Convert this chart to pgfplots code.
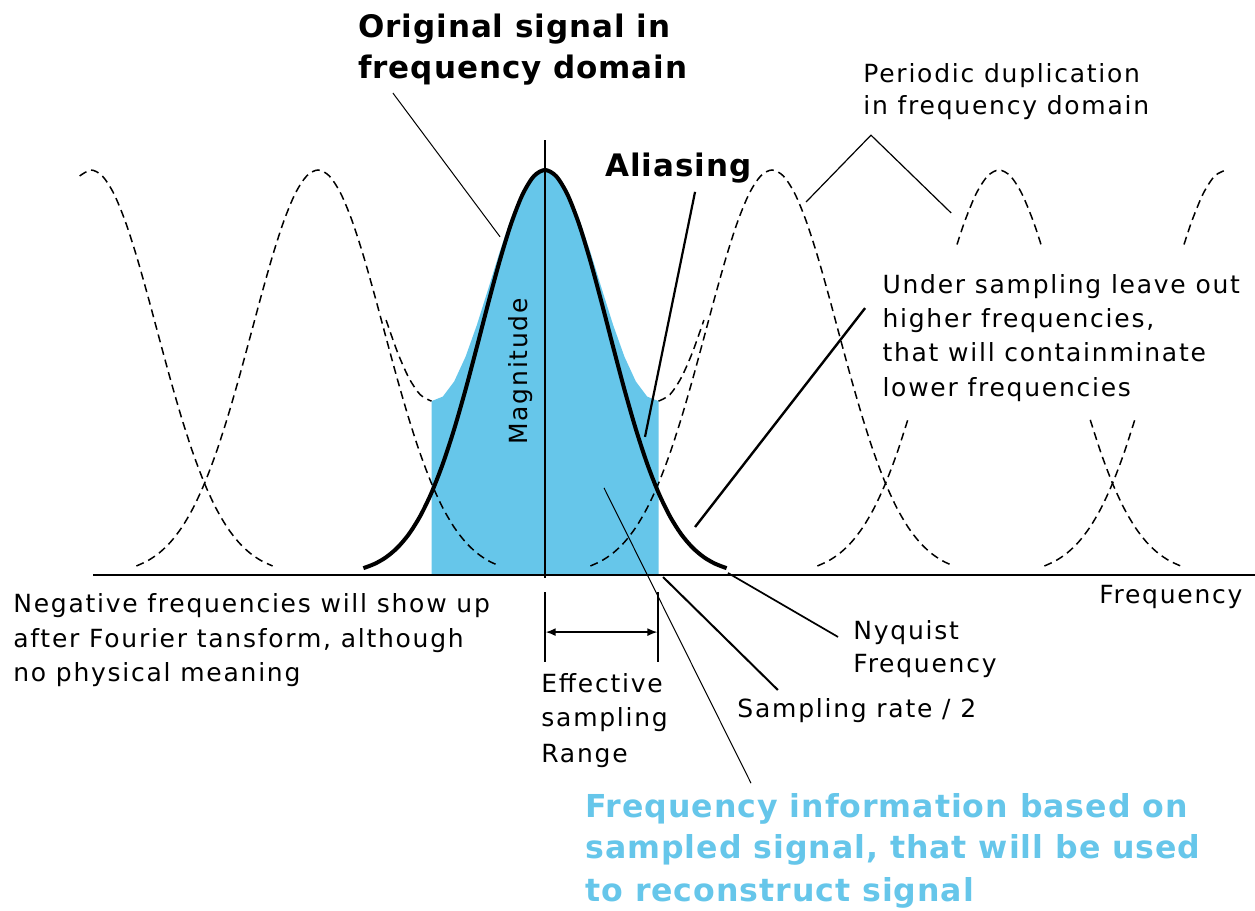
\documentclass[border=0pt]{standalone}
\usepackage{pgfplots}
\pgfplotsset{compat=1.18}
\usepackage{fontspec}
\setmainfont{DejaVu Sans}
\newfontfamily\regfont[LetterSpace=7]{DejaVu Sans}
\newfontfamily\bldfont[LetterSpace=3]{DejaVu Sans}
\usetikzlibrary{arrows.meta}
\definecolor{skyb}{RGB}{102,198,234}
\newcommand\rtext{\regfont\fontsize{12.5}{17}\selectfont}
\newcommand\btext{\bldfont\bfseries\fontsize{15.5}{20.5}\selectfont}
\newcommand\ctext{\bldfont\bfseries\fontsize{15.8}{21}\selectfont}
\tikzset{
    dashcurve/.style={black, line width=0.75pt, dash pattern=on 4pt off 2.5pt, smooth},
    lead/.style={black, line width=#1, sharp plot},
    txt/.style={anchor=base west, inner sep=0pt, font=\rtext}}

\begin{document}
\begin{tikzpicture}
\begin{axis}[scale only axis, width=627.5pt, height=455pt,
    xmin=-2.40088, xmax=3.12775, ymin=-0.82716, ymax=1.41975,
    hide axis, clip=false]

% sampled spectrum (sum of copies) over the effective range
\addplot[fill=skyb, draw=none] coordinates {(-0.5,0) (-0.5,0.4293) (-0.45,0.4405) (-0.4,0.4780) (-0.35,0.5389) (-0.3,0.6176) (-0.25,0.7066) (-0.2,0.7971) (-0.15,0.8803) (-0.1,0.9471) (-0.05,0.9903) (0,1.005) (0.05,0.9903) (0.1,0.9471) (0.15,0.8803) (0.2,0.7971) (0.25,0.7066) (0.3,0.6176) (0.35,0.5389) (0.4,0.4780) (0.45,0.4405) (0.5,0.4293) (0.5,0)};

% periodic copies
\addplot[dashcurve] coordinates {(-2.05,0.9852) (-2,1) (-1.95,0.9852) (-1.9,0.9423) (-1.85,0.8748) (-1.8,0.7884) (-1.75,0.6897) (-1.7,0.5856) (-1.65,0.4827) (-1.6,0.3863) (-1.55,0.3000) (-1.5,0.2262) (-1.45,0.1656) (-1.4,0.1176) (-1.35,0.0811) (-1.3,0.0543) (-1.25,0.0353) (-1.2,0.0223)};
\addplot[dashcurve] coordinates {(-1.8,0.0223) (-1.75,0.0353) (-1.7,0.0543) (-1.65,0.0811) (-1.6,0.1176) (-1.55,0.1656) (-1.5,0.2262) (-1.45,0.3000) (-1.4,0.3863) (-1.35,0.4827) (-1.3,0.5856) (-1.25,0.6897) (-1.2,0.7884) (-1.15,0.8748) (-1.1,0.9423) (-1.05,0.9852) (-1,1) (-0.95,0.9852) (-0.9,0.9423) (-0.85,0.8748) (-0.8,0.7884) (-0.75,0.6897) (-0.7,0.5856) (-0.65,0.4827) (-0.6,0.3863) (-0.55,0.3000) (-0.5,0.2262) (-0.45,0.1656) (-0.4,0.1176) (-0.35,0.0811) (-0.3,0.0543) (-0.25,0.0353) (-0.2,0.0223)};
\addplot[dashcurve] coordinates {(0.2,0.0223) (0.25,0.0353) (0.3,0.0543) (0.35,0.0811) (0.4,0.1176) (0.45,0.1656) (0.5,0.2262) (0.55,0.3000) (0.6,0.3863) (0.65,0.4827) (0.7,0.5856) (0.75,0.6897) (0.8,0.7884) (0.85,0.8748) (0.9,0.9423) (0.95,0.9852) (1,1) (1.05,0.9852) (1.1,0.9423) (1.15,0.8748) (1.2,0.7884) (1.25,0.6897) (1.3,0.5856) (1.35,0.4827) (1.4,0.3863) (1.45,0.3000) (1.5,0.2262) (1.55,0.1656) (1.6,0.1176) (1.65,0.0811) (1.7,0.0543) (1.75,0.0353) (1.8,0.0223)};
\addplot[dashcurve] coordinates {(1.2,0.0223) (1.25,0.0353) (1.3,0.0543) (1.35,0.0811) (1.4,0.1176) (1.45,0.1656) (1.5,0.2262) (1.55,0.3000) (1.598,0.383)};
\addplot[dashcurve] coordinates {(1.815,0.816) (1.85,0.8748) (1.9,0.9423) (1.95,0.9852) (2,1) (2.05,0.9852) (2.1,0.9423) (2.15,0.8748) (2.185,0.816)};
\addplot[dashcurve] coordinates {(2.402,0.383) (2.45,0.3000) (2.5,0.2262) (2.55,0.1656) (2.6,0.1176) (2.65,0.0811) (2.7,0.0543) (2.75,0.0353) (2.8,0.0223)};
\addplot[dashcurve] coordinates {(2.2,0.0223) (2.25,0.0353) (2.3,0.0543) (2.35,0.0811) (2.4,0.1176) (2.45,0.1656) (2.5,0.2262) (2.55,0.3000) (2.598,0.383)};
\addplot[dashcurve] coordinates {(2.815,0.816) (2.85,0.8748) (2.9,0.9423) (2.95,0.9852) (3,1)};
% aliased sum outside the effective range
\addplot[dashcurve] coordinates {(-0.7,0.6295) (-0.65,0.5503) (-0.6,0.4870) (-0.55,0.4453) (-0.5,0.4293)};
\addplot[dashcurve] coordinates {(0.5,0.4293) (0.55,0.4453) (0.6,0.4870) (0.65,0.5503) (0.7,0.6295)};

% original signal
\addplot[black, line width=2pt, smooth] coordinates {(-0.8,0.0169) (-0.75,0.0277) (-0.7,0.0439) (-0.65,0.0676) (-0.6,0.1007) (-0.55,0.1453) (-0.5,0.2031) (-0.45,0.2749) (-0.4,0.3604) (-0.35,0.4578) (-0.3,0.5633) (-0.25,0.6713) (-0.2,0.7748) (-0.15,0.8663) (-0.1,0.9382) (-0.05,0.9842) (0,1) (0.05,0.9842) (0.1,0.9382) (0.15,0.8663) (0.2,0.7748) (0.25,0.6713) (0.3,0.5633) (0.35,0.4578) (0.4,0.3604) (0.45,0.2749) (0.5,0.2031) (0.55,0.1453) (0.6,0.1007) (0.65,0.0676) (0.7,0.0439) (0.75,0.0277) (0.8,0.0169)};

% axes
\addplot[lead=1pt] coordinates {(-1.99,0) (3.12775,0)};
\addplot[lead=0.75pt] coordinates {(0,-0.007) (0,1.074)};

% leader lines
\addplot[lead=0.5pt] coordinates {(-0.670,1.190) (-0.198,0.835)};
\addplot[lead=1.1pt] coordinates {(0.661,0.946) (0.4405,0.341)};
\addplot[lead=0.6pt] coordinates {(1.150,0.921) (1.436,1.086) (1.789,0.894)};
\addplot[lead=1.2pt] coordinates {(1.410,0.659) (0.661,0.1185)};
\addplot[lead=0.85pt] coordinates {(0.806,0.005) (1.291,-0.153)};
\addplot[lead=1pt] coordinates {(0.520,-0.005) (1.026,-0.284)};
\addplot[lead=0.5pt] coordinates {(0.260,0.215) (0.9075,-0.514)};
% effective sampling range bracket
\addplot[lead=0.75pt] coordinates {(0,-0.042) (0,-0.215)};
\addplot[lead=0.75pt] coordinates {(0.498,-0.042) (0.498,-0.215)};
\addplot[lead=0.75pt, {Latex[length=5pt,width=4pt]}-{Latex[length=5pt,width=4pt]}] coordinates {(0.003,-0.141) (0.495,-0.141)};

% texts
\node[txt, font=\btext] at (axis cs:-0.824,1.328) {Original signal in};
\node[txt, font=\btext] at (axis cs:-0.824,1.227) {frequency domain};
\node[txt, font=\btext] at (axis cs:0.264,0.983) {Aliasing};
\node[txt] at (axis cs:1.401,1.215) {Periodic duplication};
\node[txt] at (axis cs:1.401,1.138) {in frequency domain};
\node[txt] at (axis cs:1.485,0.696) {Under sampling leave out};
\node[txt] at (axis cs:1.485,0.612) {higher frequencies,};
\node[txt] at (axis cs:1.485,0.526) {that will containminate};
\node[txt] at (axis cs:1.485,0.440) {lower frequencies};
\node[txt, rotate=90] at (axis cs:-0.075,0.321) {Magnitude};
\node[txt] at (axis cs:2.440,-0.0716) {Frequency};
\node[txt] at (axis cs:-2.344,-0.0914) {Negative frequencies will show up};
\node[txt] at (axis cs:-2.344,-0.178) {after Fourier tansform, although};
\node[txt] at (axis cs:-2.344,-0.262) {no physical meaning};
\node[txt] at (axis cs:-0.0176,-0.289) {Effective};
\node[txt] at (axis cs:-0.0176,-0.375) {sampling};
\node[txt] at (axis cs:-0.0176,-0.462) {Range};
\node[txt] at (axis cs:1.357,-0.160) {Nyquist};
\node[txt] at (axis cs:1.357,-0.240) {Frequency};
\node[txt] at (axis cs:0.846,-0.351) {Sampling rate / 2};
\node[txt, font=\ctext, text=skyb] at (axis cs:0.176,-0.598) {Frequency information based on};
\node[txt, font=\ctext, text=skyb] at (axis cs:0.176,-0.701) {sampled signal, that will be used};
\node[txt, font=\ctext, text=skyb] at (axis cs:0.176,-0.805) {to reconstruct signal};
\end{axis}
\pgfresetboundingbox
\path[use as bounding box] (current axis.south west) rectangle (current axis.north east);
\end{tikzpicture}
\end{document}
